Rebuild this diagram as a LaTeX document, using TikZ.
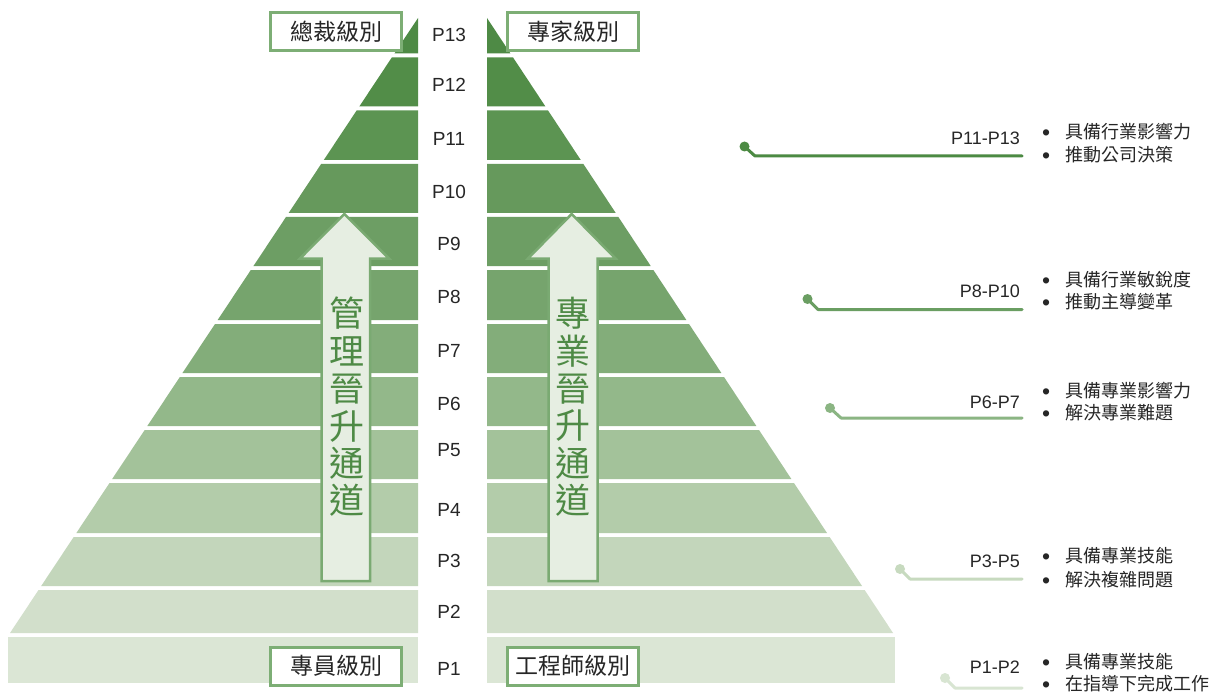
\documentclass[tikz,border=0pt]{standalone}
\usepackage{fontspec}
\setmainfont{Liberation Sans}
\newfontfamily\cjk{Noto Sans CJK TC}
\newcommand{\bul}{\makebox[23pt][l]{\fontspec{Liberation Sans}\fontsize{23}{23}\selectfont\raisebox{-1.5pt}{•}}}
\definecolor{c13}{HTML}{4E8A45}
\definecolor{c12}{HTML}{528D48}
\definecolor{c11}{HTML}{5C9452}
\definecolor{c10}{HTML}{66995C}
\definecolor{c9}{HTML}{6D9E64}
\definecolor{c8}{HTML}{76A46D}
\definecolor{c7}{HTML}{83AD7A}
\definecolor{c6}{HTML}{93B88A}
\definecolor{c5}{HTML}{A3C29A}
\definecolor{c4}{HTML}{B3CCAA}
\definecolor{c3}{HTML}{C3D6BB}
\definecolor{c2}{HTML}{D2DFCB}
\definecolor{c1}{HTML}{DBE6D5}
\definecolor{arrowfill}{HTML}{E6EEE2}
\definecolor{arrowline}{HTML}{7AAA72}
\definecolor{boxline}{HTML}{7DAE75}
\definecolor{arrowtext}{HTML}{4E8A45}
\definecolor{txt}{HTML}{262626}
\definecolor{l1}{HTML}{4C8A43}
\definecolor{l2}{HTML}{6A9E62}
\definecolor{l3}{HTML}{8BB583}
\definecolor{l4}{HTML}{C7DABF}
\definecolor{l5}{HTML}{D8E5D2}
\begin{document}
\begin{tikzpicture}[x=1pt,y=-1pt,
  plabel/.style={font=\fontsize{19}{22}\selectfont, text=txt, inner sep=0pt},
  lvlbox/.style={draw=boxline, line width=3pt, fill=white, minimum width=131pt, minimum height=38pt, inner sep=0pt, font=\cjk\fontsize{23}{26}\selectfont, text=txt},
  arrowbox/.style={fill=arrowfill, draw=arrowline, line width=2.5pt, line join=miter},
  vtext/.style={font=\cjk\fontsize{35}{37.4}\selectfont, text=arrowtext, align=center, inner sep=0pt},
  dotn/.style={circle, inner sep=0pt, minimum size=10pt},
  conn/.style={line width=3pt, line cap=round, line join=round},
  rng/.style={font=\fontsize{18}{21}\selectfont, text=txt, inner sep=0pt, anchor=east},
  itm/.style={font=\cjk\fontsize{18}{21}\selectfont, text=txt, inner sep=0pt, anchor=west}
]
\useasboundingbox (0,0) rectangle (1223,695);
\fill[white] (0,0) rectangle (1223,695);
% pyramid bands
\foreach \t/\b/\c in {18/53.5/c13, 57.5/106.5/c12, 110.5/160/c11, 164/213/c10, 217/266/c9, 270/320/c8, 324/373/c7, 377/426/c6, 430/479/c5, 483/533/c4, 537/586/c3, 590/633/c2}{
  \pgfmathsetmacro\lt{418-0.6634*(\t-18)}
  \pgfmathsetmacro\lb{418-0.6634*(\b-18)}
  \pgfmathsetmacro\rt{487+0.6602*(\t-18)}
  \pgfmathsetmacro\rb{487+0.6602*(\b-18)}
  \fill[fill=\c] (\lt,\t) -- (418,\t) -- (418,\b) -- (\lb,\b) -- cycle;
  \fill[fill=\c] (487,\t) -- (\rt,\t) -- (\rb,\b) -- (487,\b) -- cycle;
}
\fill[c1] (8,637) rectangle (418,683);
\fill[c1] (487,637) rectangle (895,683);
% level labels
\foreach \n/\y in {13/35, 12/85, 11/139, 10/192, 9/244, 8/297, 7/351, 6/404, 5/450, 4/510, 3/561, 2/612, 1/669}{
  \node[plabel] (p\n) at (449,\y) {P\n};
}
% arrows
\draw[arrowbox] (344.3,214) -- (389,258.5) -- (370,258.5) -- (370,581) -- (321.7,581) -- (321.7,258.5) -- (300,258.5) -- cycle;
\draw[arrowbox] (571.7,214) -- (615.5,258.5) -- (597.5,258.5) -- (597.5,581) -- (548.5,581) -- (548.5,258.5) -- (528,258.5) -- cycle;
\node[vtext] (mgmt) at (346.5,407) {管\\理\\晉\\升\\通\\道};
\node[vtext] (prof) at (573,407) {專\\業\\晉\\升\\通\\道};
% boxes
\node[lvlbox] (b1) at (336,31.5) {總裁級別};
\node[lvlbox] (b2) at (573,31.5) {專家級別};
\node[lvlbox] (b3) at (336,666) {專員級別};
\node[lvlbox] (b4) at (573,666) {工程師級別};
% annotations
\node[dotn, fill=l1] (d1) at (744.5,146.5) {};
\coordinate (k1) at (755,156);
\coordinate (e1) at (1022,156);
\draw[conn, draw=l1] (d1.center) -- (k1) -- (e1);
\node[rng] (r1) at (1020,138) {P11-P13};
\node[itm] (i1a) at (1042,132) {\bul 具備行業影響力};
\node[itm] (i1b) at (1042,155) {\bul 推動公司決策};

\node[dotn, fill=l2] (d2) at (807.5,299) {};
\coordinate (k2) at (818,309.5);
\coordinate (e2) at (1022,309.5);
\draw[conn, draw=l2] (d2.center) -- (k2) -- (e2);
\node[rng] (r2) at (1020,291) {P8-P10};
\node[itm] (i2a) at (1042,280) {\bul 具備行業敏銳度};
\node[itm] (i2b) at (1042,302) {\bul 推動主導變革};

\node[dotn, fill=l3] (d3) at (830,408) {};
\coordinate (k3) at (841,418);
\coordinate (e3) at (1022,418);
\draw[conn, draw=l3] (d3.center) -- (k3) -- (e3);
\node[rng] (r3) at (1020,402) {P6-P7};
\node[itm] (i3a) at (1042,391) {\bul 具備專業影響力};
\node[itm] (i3b) at (1042,413) {\bul 解決專業難題};

\node[dotn, fill=l4] (d4) at (900,569) {};
\coordinate (k4) at (910,579);
\coordinate (e4) at (1022,579);
\draw[conn, draw=l4] (d4.center) -- (k4) -- (e4);
\node[rng] (r4) at (1020,561) {P3-P5};
\node[itm] (i4a) at (1042,556) {\bul 具備專業技能};
\node[itm] (i4b) at (1042,580) {\bul 解決複雜問題};

\node[dotn, fill=l5] (d5) at (945,678) {};
\coordinate (k5) at (955,688);
\coordinate (e5) at (1022,688);
\draw[conn, draw=l5] (d5.center) -- (k5) -- (e5);
\node[rng] (r5) at (1020,667) {P1-P2};
\node[itm] (i5a) at (1042,662) {\bul 具備專業技能};
\node[itm] (i5b) at (1042,684) {\bul 在指導下完成工作};
\end{tikzpicture}
\end{document}
